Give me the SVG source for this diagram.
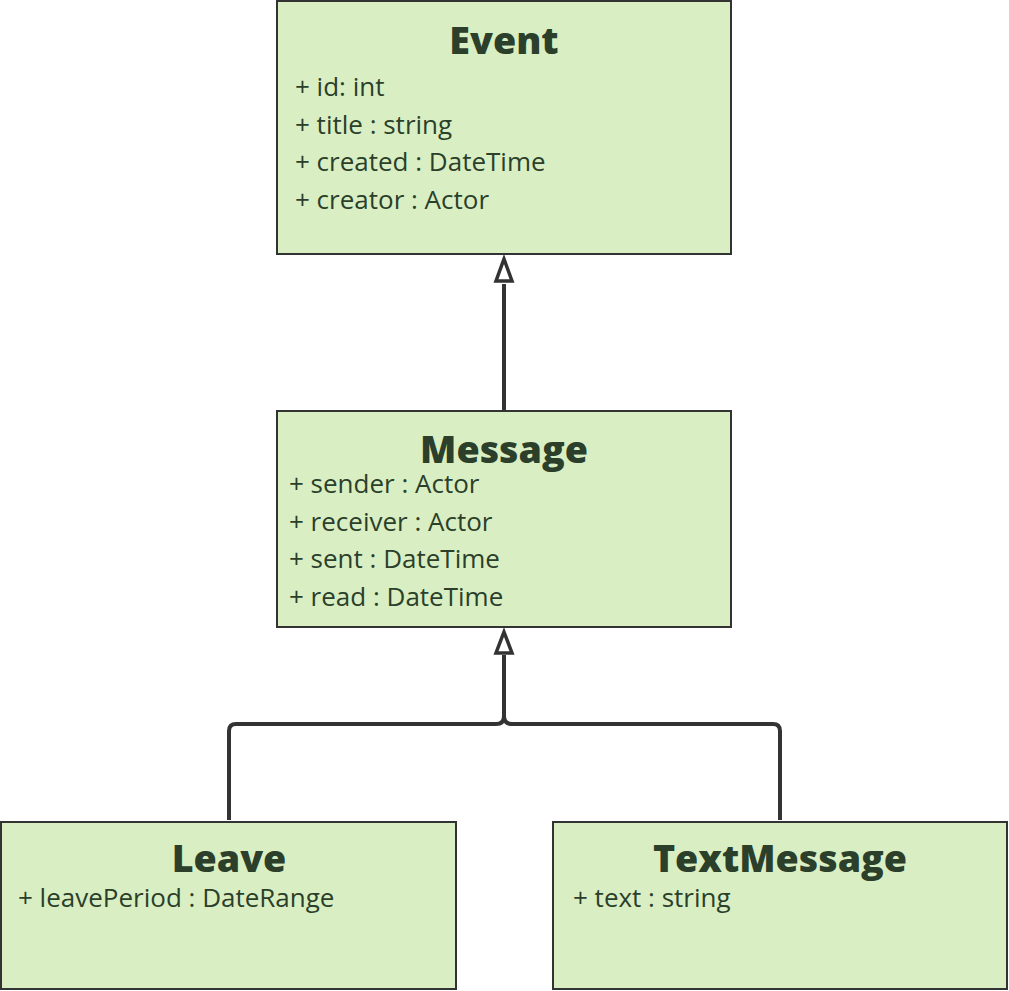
<svg xmlns="http://www.w3.org/2000/svg" width="1009" height="991" viewBox="0 0 1009 991">
<defs>
<style>
.box{fill:#d9efc3;stroke:#333333;stroke-width:2}
.title{font-family:"Open Sans","Liberation Sans",sans-serif;font-weight:800;font-size:37.6px;fill:#2b3f2b;text-anchor:middle}
.attr{font-family:"Open Sans","Liberation Sans",sans-serif;font-size:26px;fill:#2b3f2b}
.conn{fill:none;stroke:#333333;stroke-width:4}
.head{fill:#ffffff;stroke:#333333;stroke-width:3.5}
</style>
</defs>
<rect width="1009" height="991" fill="#ffffff"/>
<g id="connectors">
<path class="conn" d="M504 410 V284"/>
<path class="head" d="M504 259 L512 281 L496 281 Z"/>
<path class="conn" d="M504 655 V716 Q504 724 496 724 H236 Q229 724 229 731 V820"/>
<path class="conn" d="M504 716 Q504 724 512 724 H773 Q780 724 780 731 V820"/>
<path class="head" d="M504 632 L512 653 L496 653 Z"/>
</g>
<g id="event">
<rect class="box" x="277" y="1" width="454" height="253"/>
<text class="title" x="504" y="54">Event</text>
<text class="attr" x="295" y="96">+ id: int</text>
<text class="attr" x="295" y="134">+ title : string</text>
<text class="attr" x="295" y="171">+ created : DateTime</text>
<text class="attr" x="295" y="209">+ creator : Actor</text>
</g>
<g id="message">
<rect class="box" x="277" y="411" width="454" height="216"/>
<text class="title" x="504" y="463">Message</text>
<text class="attr" x="289" y="493">+ sender : Actor</text>
<text class="attr" x="289" y="531">+ receiver : Actor</text>
<text class="attr" x="289" y="568">+ sent : DateTime</text>
<text class="attr" x="289" y="606">+ read : DateTime</text>
</g>
<g id="leave">
<rect class="box" x="1" y="822" width="455" height="167"/>
<text class="title" x="229" y="872">Leave</text>
<text class="attr" x="18" y="907">+ leavePeriod : DateRange</text>
</g>
<g id="textmessage">
<rect class="box" x="553" y="822" width="454" height="167"/>
<text class="title" x="780" y="872">TextMessage</text>
<text class="attr" x="573" y="907">+ text : string</text>
</g>
</svg>
